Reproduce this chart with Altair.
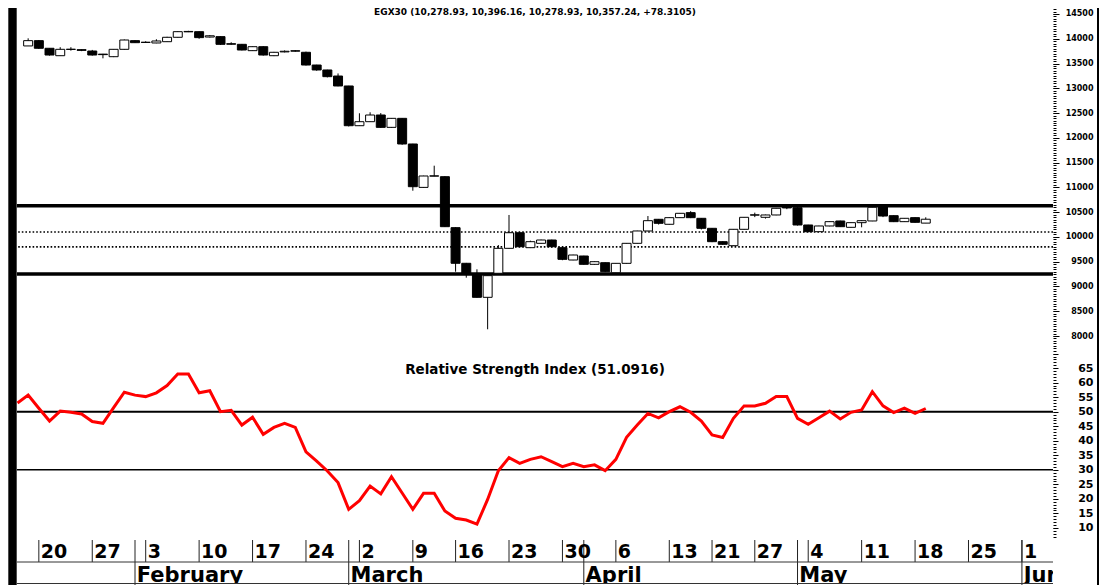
import altair as alt
import pandas as pd

# ---------------- data ----------------
day_index = list(range(0, 85))
opens = [13855, 13962, 13808, 13658, 13789, 13780, 13753, 13690, 13638, 13787,
         13962, 13930, 13915, 13941, 14030, 14140, 14143, 14035, 14043, 13900,
         13888, 13760, 13840, 13658, 13735, 13758, 13727, 13470, 13370, 13248,
         13047, 12245, 12326, 12461, 12212, 12394, 11876, 11000, 11232, 11216,
         10187, 9468, 9245, 8781, 9266, 9770, 10085, 9783, 9871, 9938,
         9783, 9534, 9615, 9447, 9480, 9278, 9467, 9871, 10120, 10356,
         10255, 10389, 10490, 10376, 10174, 9904, 9823, 10154, 10445, 10396,
         10443, 10600, 10590, 10241, 10106, 10221, 10322, 10194, 10288, 10322,
         10611, 10429, 10308, 10389, 10278.93]
highs = [14009, 13975, 13808, 13830, 13830, 13785, 13775, 13695, 13790, 13985,
         13970, 13950, 13990, 14040, 14150, 14160, 14150, 14075, 14050, 13930,
         13895, 13845, 13850, 13735, 13765, 13770, 13740, 13475, 13375, 13300,
         13050, 12496, 12516, 12500, 12400, 12400, 11880, 11235, 11438, 11225,
         10195, 9475, 9346, 9225, 9837, 10443, 10090, 9925, 9945, 9945,
         9790, 9640, 9620, 9505, 9485, 9470, 9875, 10125, 10422, 10362,
         10395, 10482, 10520, 10380, 10180, 9910, 10160, 10400, 10490, 10450,
         10585, 10610, 10600, 10245, 10225, 10312, 10328, 10292, 10335, 10605,
         10615, 10435, 10380, 10395, 10396.16]
lows = [13855, 13795, 13660, 13658, 13760, 13750, 13660, 13605, 13630, 13780,
        13915, 13915, 13910, 13935, 14025, 14135, 14000, 14025, 13875, 13880,
        13765, 13755, 13660, 13650, 13725, 13740, 13460, 13355, 13220, 13040,
        12230, 12240, 12320, 12200, 12205, 11860, 10933, 10995, 11225, 10200,
        9298, 9177, 8775, 8136, 9260, 9765, 9795, 9775, 9865, 9790,
        9530, 9530, 9440, 9440, 9290, 9270, 9462, 9866, 10115, 10250,
        10250, 10384, 10380, 10150, 9895, 9840, 9815, 10148, 10400, 10370,
        10438, 10560, 10230, 10095, 10100, 10215, 10200, 10188, 10194, 10318,
        10400, 10300, 10302, 10288, 10278.93]
closes = [13962, 13808, 13672, 13787, 13785, 13766, 13672, 13680, 13787, 13975,
          13921, 13926, 13955, 14030, 14143, 14148, 14023, 14060, 13888, 13890,
          13773, 13840, 13672, 13727, 13748, 13750, 13470, 13370, 13235, 13047,
          12245, 12326, 12461, 12212, 12394, 11876, 11014, 11230, 11228, 10207,
          9468, 9245, 8781, 9218, 9770, 10085, 9803, 9904, 9938, 9803,
          9548, 9635, 9447, 9500, 9298, 9467, 9871, 10120, 10328, 10275,
          10389, 10477, 10389, 10174, 9904, 9851, 10154, 10396, 10441, 10443,
          10578, 10585, 10241, 10106, 10221, 10308, 10207, 10288, 10328, 10598,
          10422, 10308, 10376, 10295, 10357.24]

rsi_index = list(range(-1, 85))
rsi_values = [53.0, 55.7, 51.2, 46.8, 50.2, 49.8, 49.2, 46.6, 46.0, 51.4, 56.7,
              55.7, 55.2, 56.5, 59.0, 63.0, 63.0, 56.5, 57.2, 50.0, 50.5,
              45.4, 48.1, 42.2, 44.6, 46.0, 44.6, 36.2, 33.0, 29.6, 25.6,
              16.4, 19.4, 24.4, 21.7, 27.6, 22.0, 16.4, 21.9, 21.9, 15.8,
              13.3, 12.7, 11.3, 19.8, 29.7, 34.2, 32.2, 33.6, 34.5, 32.8,
              31.1, 32.2, 31.1, 31.7, 29.7, 33.6, 41.2, 45.4, 49.4, 47.9,
              50.0, 51.7, 49.8, 46.8, 42.0, 41.1, 47.7, 52.0, 52.0, 52.9,
              55.2, 55.2, 47.7, 45.7, 47.9, 50.2, 47.5, 49.8, 50.6, 56.9,
              52.0, 49.7, 51.2, 49.4, 51.1]

week_idx = [1, 6, 11, 16, 21, 26, 31, 36, 40, 45, 50, 55, 60, 64, 68, 73, 78, 83, 88, 93]
week_labels = ["20", "27", "3", "10", "17", "24", "2", "9", "16", "23",
               "30", "6", "13", "21", "27", "4", "11", "18", "25", "1"]
month_idx = [10, 30, 52, 72, 93]
month_labels = ["February", "March", "April", "May", "June"]

price_levels_solid = [10630, 9250]
price_levels_dotted = [10100, 9800]
rsi_levels = [50, 30]
rsi_level_widths = [2.0, 1.6]

price_major_ticks = list(range(8000, 15000, 500))
price_minor_ticks = list(range(7750, 14650, 50))
rsi_major_ticks = list(range(10, 75, 5))
rsi_minor_ticks = list(range(7, 72))

title_text = "EGX30 (10,278.93, 10,396.16, 10,278.93, 10,357.24, +78.3105)"
rsi_title = "Relative Strength Index (51.0916)"

# ---------------- layout ----------------
W, H = 1036, 576
FONT = "DejaVu Sans"

xscale = alt.Scale(domain=[-0.5755, 95.44], zero=False, nice=False)
pscale = alt.Scale(domain=[2994.1, 14621.1], zero=False, nice=False)
rscale = alt.Scale(domain=[-9.31, 188.97], zero=False, nice=False)
X = alt.X("i:Q", scale=xscale, axis=None)

candles = pd.DataFrame({"i": day_index, "open": opens, "high": highs,
                        "low": lows, "close": closes})
candles["dir"] = ["up" if c >= o else "down" for o, c in zip(opens, closes)]
rsi_df = pd.DataFrame({"i": rsi_index, "rsi": rsi_values})


def right_axis(values, tick, labels=True, size=8, hide=None):
    kw = dict(orient="right", values=values, tickSize=tick, tickColor="black",
              tickWidth=1, domain=False, grid=False, title=None)
    if labels:
        kw.update(labelFont=FONT, labelFontWeight="bold", labelFontSize=size,
                  labelColor="black", labelAlign="right", labelBaseline="middle",
                  labelPadding=40 - tick, labelOverlap=False, labelFlush=False,
                  format="d")
        if hide is not None:
            kw["labelExpr"] = f"datum.value == {hide} ? '' : datum.label"
    else:
        kw["labels"] = False
    return alt.Axis(**kw)


def axis_layer(values, scale, axis):
    # invisible points that only carry an axis on the given scale
    return alt.Chart(pd.DataFrame({"v": values})).mark_point(opacity=0).encode(
        y=alt.Y("v:Q", scale=scale, axis=axis))


# price panel
solid = alt.Chart(pd.DataFrame({"v": price_levels_solid})).mark_rule(
    color="black", strokeWidth=3.5).encode(y=alt.Y("v:Q", scale=pscale, axis=None))
dotted = alt.Chart(pd.DataFrame({"v": price_levels_dotted})).mark_rule(
    color="black", strokeWidth=1.6, strokeDash=[1.6, 2.0]).encode(
    y=alt.Y("v:Q", scale=pscale, axis=None))
wicks = alt.Chart(candles).mark_rule(color="black", strokeWidth=1).encode(
    x=X, y=alt.Y("low:Q", scale=pscale, axis=None), y2="high:Q")
bodies = alt.Chart(candles).mark_bar(size=9, stroke="black", strokeWidth=1).encode(
    x=X, y=alt.Y("open:Q", scale=pscale, axis=None), y2="close:Q",
    color=alt.Color("dir:N", scale=alt.Scale(domain=["up", "down"],
                                             range=["white", "black"]), legend=None))
price = alt.layer(solid, dotted, wicks, bodies)

price_major = axis_layer(price_major_ticks, pscale, right_axis(price_major_ticks, 6, size=8))
price_minor = axis_layer(price_minor_ticks, pscale,
                         right_axis(price_minor_ticks, 3, labels=False))

# RSI panel
rsi_lv = alt.Chart(pd.DataFrame({"v": rsi_levels, "w": rsi_level_widths})).mark_rule(
    color="black").encode(y=alt.Y("v:Q", scale=rscale, axis=None),
                          strokeWidth=alt.StrokeWidth("w:Q", scale=None, legend=None))
rsi_line = alt.Chart(rsi_df).mark_line(color="#ff0000", strokeWidth=3, clip=True).encode(
    x=X, y=alt.Y("rsi:Q", scale=rscale, axis=None))
rsi = alt.layer(rsi_lv, rsi_line)

rsi_major = axis_layer(rsi_major_ticks, rscale,
                       right_axis(rsi_major_ticks, 5, size=11, hide=70))
rsi_minor = axis_layer(rsi_minor_ticks, rscale,
                       right_axis(rsi_minor_ticks, 3, labels=False))

# titles
title = alt.Chart(pd.DataFrame({"t": [title_text]})).mark_text(
    font=FONT, fontWeight="bold", fontSize=9, align="center",
    baseline="alphabetic", color="black").encode(
    x=alt.value(518), y=alt.value(6.8), text="t:N")
rsi_t = alt.Chart(pd.DataFrame({"t": [rsi_title]})).mark_text(
    font=FONT, fontWeight="bold", fontSize=13.5, align="center",
    baseline="alphabetic", color="black").encode(
    x=alt.value(518), y=alt.value(366), text="t:N")

# date axis (two rows)
wk = pd.DataFrame({"i": week_idx, "lab": week_labels})
mo = pd.DataFrame({"i": month_idx, "lab": month_labels})
wk_sep = alt.Chart(wk).mark_rule(color="#222", strokeWidth=1).encode(
    x=X, y=alt.value(532), y2=alt.value(554))
mo_sep = alt.Chart(mo).mark_rule(color="#222", strokeWidth=1).encode(
    x=X, y=alt.value(532), y2=alt.value(577))
wk_txt = alt.Chart(wk).mark_text(font=FONT, fontWeight="bold", fontSize=19,
                                 align="left", baseline="alphabetic", dx=2.0,
                                 color="black", clip=True).encode(
    x=X, y=alt.value(550.3), text="lab:N")
mo_txt = alt.Chart(mo).mark_text(font=FONT, fontWeight="bold", fontSize=21,
                                 align="left", baseline="alphabetic", dx=1.8,
                                 color="black", clip=True).encode(
    x=X, y=alt.value(573.5), text="lab:N")
hlines = alt.Chart(pd.DataFrame({"y": [554, 575.5]})).mark_rule(
    color="#333", strokeWidth=1).encode(
    x=alt.value(0), x2=alt.value(W), y=alt.Y("y:Q", scale=None, axis=None))

# frame bars (left edge and right edge)
frame = alt.Chart(pd.DataFrame({"x": [-4.5, 1086], "w": [8.4, 12]})).mark_rule(
    color="black").encode(
    x=alt.X("x:Q", scale=None, axis=None), y=alt.value(-10), y2=alt.value(600),
    strokeWidth=alt.StrokeWidth("w:Q", scale=None, legend=None))

chart = alt.layer(
    price, price_major, price_minor, rsi, rsi_major, rsi_minor, title, rsi_t,
    wk_sep, mo_sep, wk_txt, mo_txt, hlines, frame
).resolve_scale(y="independent").properties(
    width=W, height=H,
    padding={"left": 9, "top": 0, "right": 46, "bottom": 1},
    autosize=alt.AutoSizeParams(type="none"),
    background="white",
).configure_view(stroke=None)

chart.save("out.html", embed_options={"renderer": "svg", "actions": False})
